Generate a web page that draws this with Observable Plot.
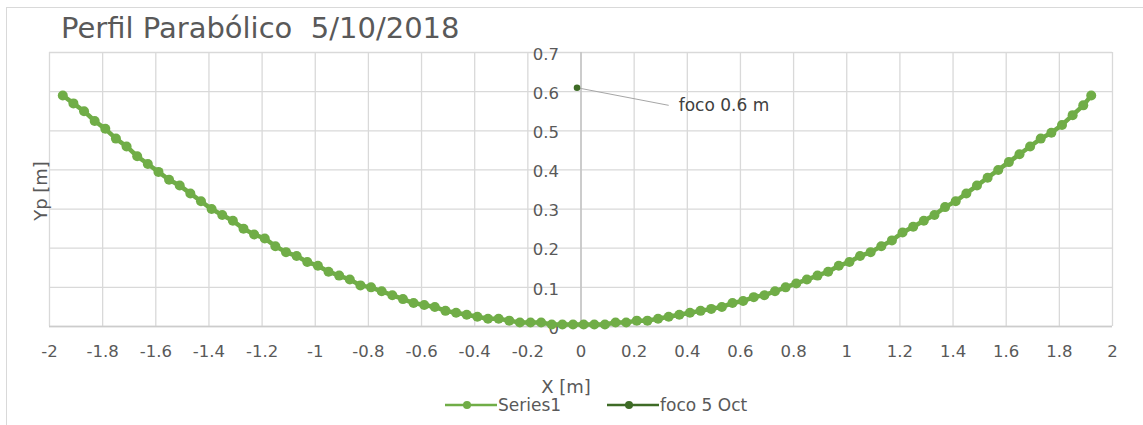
<!DOCTYPE html>
<html>
<head>
<meta charset="utf-8">
<script src="https://cdn.jsdelivr.net/npm/d3@7"></script>
<script src="https://cdn.jsdelivr.net/npm/@observablehq/plot@0.6"></script>
<style>
  html, body { margin: 0; padding: 0; background: #fff; }
  body { width: 1143px; height: 425px; overflow: hidden; position: relative; font-family: "DejaVu Sans", sans-serif; color: #595959; }
  #frame { position: absolute; left: 6px; top: 7px; width: 1150px; height: 440px; border: 1px solid #d9d9d9; box-sizing: border-box; }
  #chart { position: absolute; left: 0; top: 0; }
  #title { position: absolute; left: 61px; top: 11px; font-size: 29px; line-height: 34px; color: #595959; white-space: pre; }
  #ytitle { position: absolute; left: 40px; top: 191px; transform: translate(-50%, -50%) rotate(-90deg); font-size: 18px; white-space: nowrap; }
  #xtitle { position: absolute; left: 566px; top: 386px; transform: translate(-50%, -50%); font-size: 18px; white-space: nowrap; }
  .item { position: absolute; top: 396px; display: flex; align-items: center; font-size: 17px; line-height: 18px; white-space: nowrap; }
  .item svg { margin-right: 1px; }
</style>
</head>
<body>
<div id="frame"></div>
<div id="chart"></div>
<div id="title"></div>
<div id="ytitle"></div>
<div id="xtitle"></div>
<div id="legend"></div>
<script>
// Measured profile of the parabolic dish (x and height in metres)
const seriesX = [-1.95, -1.91, -1.87, -1.83, -1.79, -1.75, -1.71, -1.67, -1.63, -1.59,
  -1.55, -1.51, -1.47, -1.43, -1.39, -1.35, -1.31, -1.27, -1.23, -1.19,
  -1.15, -1.11, -1.07, -1.03, -0.99, -0.95, -0.91, -0.87, -0.83, -0.79,
  -0.75, -0.71, -0.67, -0.63, -0.59, -0.55, -0.51, -0.47, -0.43, -0.39,
  -0.35, -0.31, -0.27, -0.23, -0.19, -0.15, -0.11, -0.07, -0.03, 0.01,
  0.05, 0.09, 0.13, 0.17, 0.21, 0.25, 0.29, 0.33, 0.37, 0.41,
  0.45, 0.49, 0.53, 0.57, 0.61, 0.65, 0.69, 0.73, 0.77, 0.81,
  0.85, 0.89, 0.93, 0.97, 1.01, 1.05, 1.09, 1.13, 1.17, 1.21,
  1.25, 1.29, 1.33, 1.37, 1.41, 1.45, 1.49, 1.53, 1.57, 1.61,
  1.65, 1.69, 1.73, 1.77, 1.81, 1.85, 1.89, 1.92];
const seriesY = [0.590, 0.570, 0.550, 0.525, 0.505, 0.480, 0.460, 0.435, 0.415, 0.395,
  0.375, 0.360, 0.340, 0.320, 0.300, 0.285, 0.270, 0.250, 0.235, 0.225,
  0.205, 0.190, 0.180, 0.165, 0.155, 0.140, 0.130, 0.120, 0.105, 0.100,
  0.090, 0.080, 0.070, 0.060, 0.055, 0.050, 0.040, 0.035, 0.030, 0.025,
  0.020, 0.020, 0.015, 0.010, 0.010, 0.010, 0.005, 0.005, 0.005, 0.005,
  0.005, 0.005, 0.010, 0.010, 0.015, 0.015, 0.020, 0.025, 0.030, 0.035,
  0.040, 0.045, 0.050, 0.060, 0.065, 0.075, 0.080, 0.090, 0.100, 0.110,
  0.120, 0.130, 0.140, 0.155, 0.165, 0.180, 0.190, 0.205, 0.220, 0.240,
  0.255, 0.270, 0.285, 0.305, 0.320, 0.340, 0.360, 0.380, 0.400, 0.420,
  0.440, 0.460, 0.480, 0.495, 0.515, 0.540, 0.565, 0.590];

// Focus point of 5 Oct
const focoX = [-0.015];
const focoY = [0.61];
const focoLabel = "foco 0.6 m";

// Axis ticks
const xTicks = [-2, -1.8, -1.6, -1.4, -1.2, -1, -0.8, -0.6, -0.4, -0.2, 0, 0.2, 0.4, 0.6, 0.8, 1, 1.2, 1.4, 1.6, 1.8, 2];
const yTicks = [0, 0.1, 0.2, 0.3, 0.4, 0.5, 0.6, 0.7];

// Labels
const titleText = "Perfil Parabólico  5/10/2018";
const xTitle = "X [m]";
const yTitle = "Yp [m]";
const seriesNames = ["Series1", "foco 5 Oct"];

const green = "#70ad47";
const darkGreen = "#3e6b26";
const font = "'DejaVu Sans', sans-serif";

const profile = seriesX.map((x, i) => ({x, y: seriesY[i]}));
const foco = focoX.map((x, i) => ({x, y: focoY[i]}));

const chart = Plot.plot({
  width: 1143,
  height: 425,
  marginLeft: 49,
  marginRight: 31,
  marginTop: 52,
  marginBottom: 99,
  style: {fontFamily: font, fontSize: "16px", color: "#595959", background: "transparent"},
  x: {domain: [-2, 2]},
  y: {domain: [0, 0.7], axis: null},
  marks: [
    Plot.gridX(xTicks, {stroke: "#d9d9d9", strokeOpacity: 1, strokeWidth: 1.3}),
    Plot.gridY(yTicks, {stroke: "#d9d9d9", strokeOpacity: 1, strokeWidth: 1.3}),
    Plot.ruleY([0], {stroke: "#cccccc", strokeWidth: 1.3}),
    Plot.ruleX([0], {stroke: "#bfbfbf", strokeWidth: 1.3}),
    Plot.axisX(xTicks, {tickSize: 0, tickPadding: 19, tickFormat: d => String(d), label: null, fontSize: 16.5}),
    Plot.text(yTicks, {x: 0, y: d => d, text: d => String(d), dx: -22, dy: 2, textAnchor: "end", fontSize: 16.5, fill: "#595959"}),
    Plot.line(profile, {x: "x", y: "y", stroke: green, strokeWidth: 4.5}),
    Plot.dot(profile, {x: "x", y: "y", r: 5, fill: green, stroke: "none"}),
    Plot.link(foco, {x1: "x", y1: "y", x2: () => 0.33, y2: () => 0.565, stroke: "#a6a6a6", strokeWidth: 1}),
    Plot.dot(foco, {x: "x", y: "y", r: 3.3, fill: darkGreen, stroke: "none"}),
    Plot.text(foco, {x: () => 0.33, y: () => 0.565, text: () => focoLabel, dx: 10, textAnchor: "start", fontSize: 17, fill: "#404040"})
  ]
});
document.getElementById("chart").appendChild(chart);

document.getElementById("title").textContent = titleText;
document.getElementById("xtitle").textContent = xTitle;
document.getElementById("ytitle").textContent = yTitle;

// Legend: line-with-marker swatches
const legend = document.getElementById("legend");
const swatchColors = [green, darkGreen];
const itemLeft = [445, 607];
seriesNames.forEach((name, i) => {
  const item = document.createElement("div");
  item.className = "item";
  item.style.left = itemLeft[i] + "px";
  item.innerHTML = `<svg width="52" height="16"><line x1="0" y1="8" x2="52" y2="8" stroke="${swatchColors[i]}" stroke-width="2.5"/><circle cx="22" cy="8" r="4" fill="${swatchColors[i]}"/></svg><span>${name}</span>`;
  legend.appendChild(item);
});
</script>
</body>
</html>
